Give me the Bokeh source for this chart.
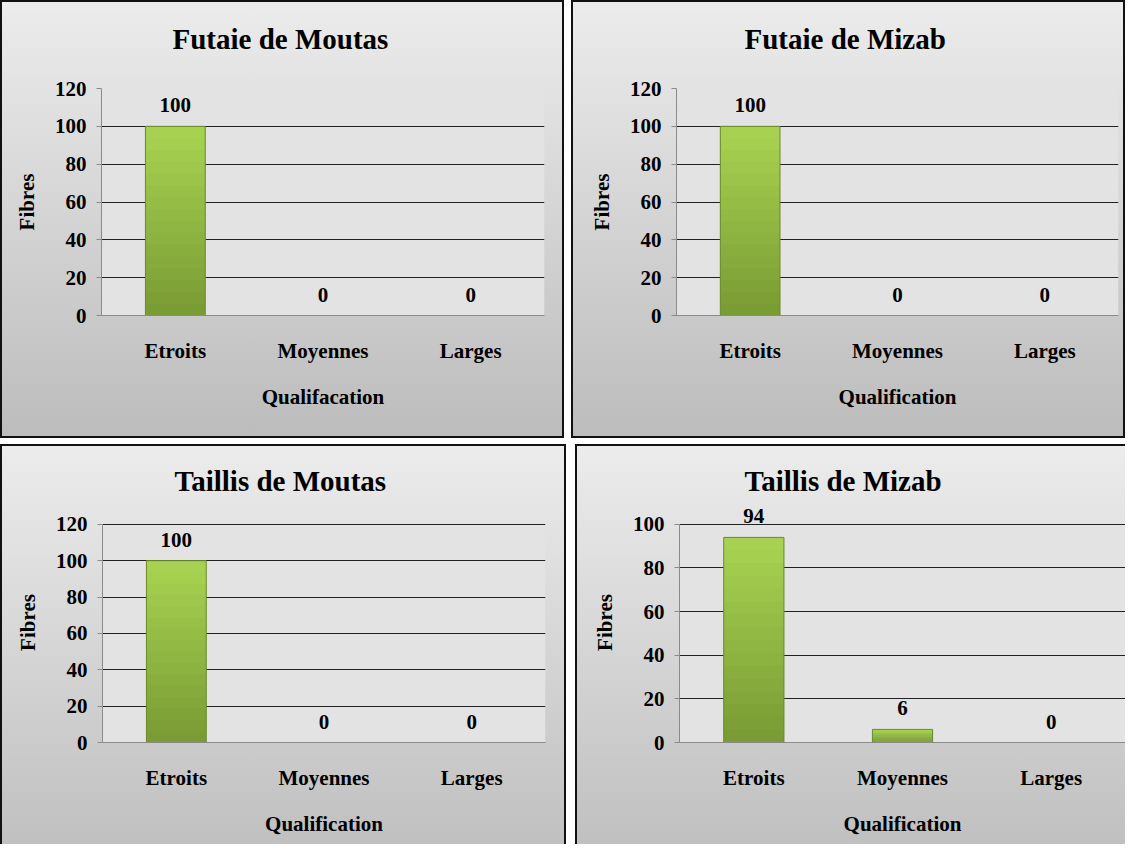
from bokeh.plotting import figure
from bokeh.layouts import row, column
from bokeh.models import FactorRange, Range1d, FixedTicker, ColumnDataSource, LabelSet, BoxAnnotation
from bokeh.embed import file_html
from bokeh.resources import INLINE

# ---- data ----
categories = ["Etroits", "Moyennes", "Larges"]
futaie_moutas = [100, 0, 0]
futaie_mizab = [100, 0, 0]
taillis_moutas = [100, 0, 0]
taillis_mizab = [94, 6, 0]
titles = ["Futaie de Moutas", "Futaie de Mizab", "Taillis de Moutas", "Taillis de Mizab"]
x_titles = ["Qualifacation", "Qualification", "Qualification", "Qualification"]
y_title = "Fibres"
ticks_120 = [0, 20, 40, 60, 80, 100, 120]
ticks_100 = [0, 20, 40, 60, 80, 100]

FONT = "Liberation Serif"
BAR_BOTTOM = (0x78, 0x9a, 0x33)
BAR_TOP = (0xa9, 0xd4, 0x52)
N_SEG = 16


def mix(a, b, t):
    return "#%02x%02x%02x" % tuple(int(round(a[i] + (b[i] - a[i]) * t)) for i in range(3))


def panel(title, xtitle, vals, ticks, w, h, borders, title_offset, standoff, pad_bottom,
          shadow, grad, head=0):
    lo, hi = ticks[0], ticks[-1]
    p = figure(x_range=FactorRange(*categories), y_range=Range1d(lo, hi + head),
               width=w, height=h, output_backend="svg", toolbar_location=None,
               min_border_left=borders[0], min_border_right=borders[1],
               min_border_top=borders[2], min_border_bottom=borders[3])
    p.styles = {"background": grad, "box-shadow": shadow}
    p.border_fill_color = None
    p.background_fill_color = None
    p.outline_line_color = None

    # plot-area background (only up to the top tick)
    p.add_layout(BoxAnnotation(bottom=lo, top=hi, fill_color="#e3e3e3", fill_alpha=1,
                               line_color=None, level="image"))

    p.title.text = title
    p.title.text_font = FONT
    p.title.text_font_style = "bold"
    p.title.text_font_size = "29px"
    p.title.align = "left"
    p.title.offset = title_offset
    p.title.text_color = "black"
    if pad_bottom:
        try:
            p.title.padding = dict(left=0, right=0, top=0, bottom=pad_bottom)
            p.title.standoff = standoff
        except Exception:
            p.title.standoff = 53
    else:
        p.title.standoff = standoff

    # grid
    p.xgrid.grid_line_color = None
    p.ygrid.ticker = FixedTicker(ticks=ticks[1:])
    p.ygrid.grid_line_color = "#222222"
    p.ygrid.grid_line_width = 1

    # axes
    ya = p.yaxis[0]
    ya.ticker = FixedTicker(ticks=ticks)
    ya.bounds = (lo, hi)
    ya.axis_line_color = "#8a8a8a"
    ya.major_tick_line_color = "#8a8a8a"
    ya.major_tick_out = 5
    ya.major_tick_in = 0
    ya.minor_tick_line_color = None
    ya.major_label_text_font = FONT
    ya.major_label_text_font_style = "bold"
    ya.major_label_text_font_size = "21px"
    ya.major_label_text_color = "black"
    ya.major_label_standoff = 10
    ya.axis_label = y_title
    ya.axis_label_text_font = FONT
    ya.axis_label_text_font_style = "bold"
    ya.axis_label_text_font_size = "21px"
    ya.axis_label_text_color = "black"
    ya.axis_label_standoff = 13

    xa = p.xaxis[0]
    xa.axis_line_color = "#8a8a8a"
    xa.major_tick_line_color = None
    xa.minor_tick_line_color = None
    xa.major_tick_out = 0
    xa.major_label_text_font = FONT
    xa.major_label_text_font_style = "bold"
    xa.major_label_text_font_size = "21px"
    xa.major_label_text_color = "black"
    xa.major_label_standoff = 23
    xa.axis_label = xtitle
    xa.axis_label_text_font = FONT
    xa.axis_label_text_font_style = "bold"
    xa.axis_label_text_font_size = "21px"
    xa.axis_label_text_color = "black"
    xa.axis_label_standoff = 19

    # bars with vertical gradient (overlapping slices to avoid seams)
    for i in range(N_SEG):
        src = ColumnDataSource(dict(
            x=categories,
            top=[min(v, v * (i + 1.6) / N_SEG) for v in vals],
            bottom=[v * i / N_SEG for v in vals],
        ))
        c = mix(BAR_BOTTOM, BAR_TOP, (i + 0.5) / N_SEG)
        p.vbar(x="x", top="top", bottom="bottom", width=0.405, source=src,
               fill_color=c, line_color=None)
    p.vbar(x=categories, top=vals, width=0.405, fill_color=None,
           line_color="#6a8a2a", line_width=1)

    # value labels
    lsrc = ColumnDataSource(dict(x=categories, y=vals, text=[str(v) for v in vals]))
    p.add_layout(LabelSet(x="x", y="y", text="text", source=lsrc, y_offset=14,
                          text_font=FONT, text_font_style="bold", text_font_size="21px",
                          text_align="center", text_baseline="alphabetic",
                          text_color="black"))
    return p


grad_top = "linear-gradient(to bottom, #ececec, #bcbcbc)"
grad_bot = "linear-gradient(to bottom, #ececec, #c0c0c0)"
full = "inset 0 0 0 2px #111"
lrt = "inset 2px 0 0 0 #111, inset -2px 0 0 0 #111, inset 0 2px 0 0 #111"
lt = "inset 2px 0 0 0 #111, inset 0 2px 0 0 #111"

p1 = panel(titles[0], x_titles[0], futaie_moutas, ticks_120, 564, 438, (101, 20, 88, 123),
           71, 0, 34, full, grad_top)
p2 = panel(titles[1], x_titles[1], futaie_mizab, ticks_120, 554, 438, (105, 7, 88, 123),
           68, 0, 34, full, grad_top)
p3 = panel(titles[2], x_titles[2], taillis_moutas, ticks_120, 566, 400, (102, 21, 58, 102),
           72, 1, 5, lrt, grad_bot, head=12)
p4 = panel(titles[3], x_titles[3], taillis_mizab, ticks_100, 550, 400, (104, 0, 58, 102),
           65, 1, 5, lt, grad_bot, head=10)

layout = column(row(p1, p2, spacing=7), row(p3, p4, spacing=9), spacing=6)

open("out.html", "w").write(file_html(layout, INLINE))
